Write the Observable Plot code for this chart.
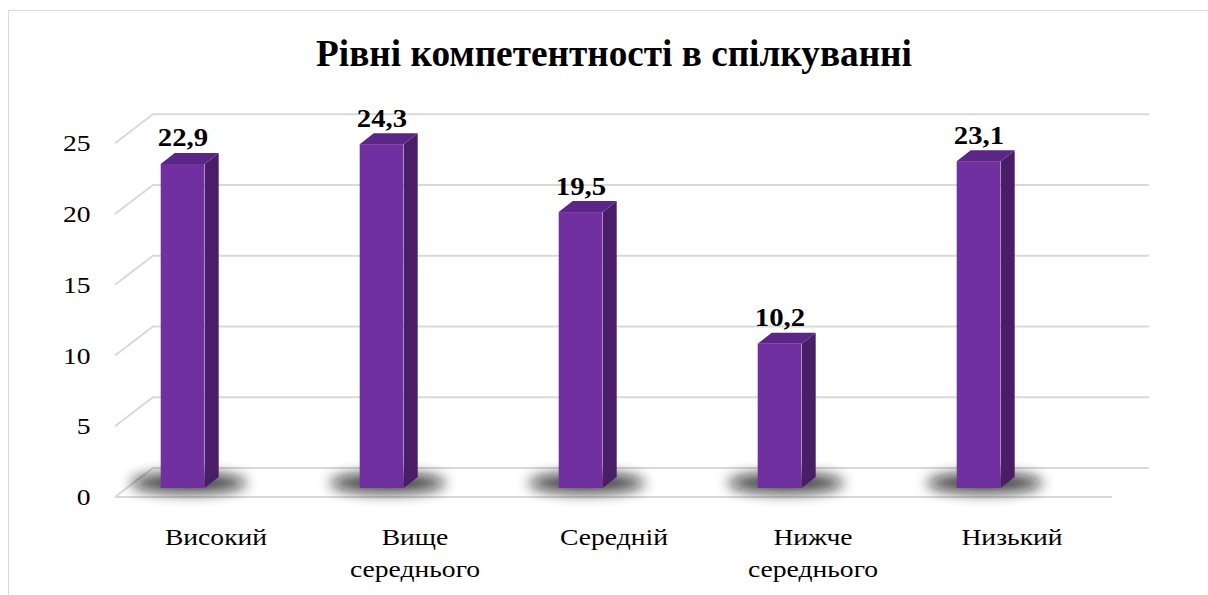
<!DOCTYPE html>
<html><head><meta charset="utf-8">
<script src="https://cdn.jsdelivr.net/npm/d3@7"></script>
<script src="https://cdn.jsdelivr.net/npm/@observablehq/plot@0.6"></script>
<style>
body{margin:0;background:#fff;}
#wrap{position:relative;width:1208px;height:595px;overflow:hidden;background:#fff;}
#frame{position:absolute;left:8px;top:10px;width:1400px;height:800px;border:1.5px solid #d9d9d9;}
#title{position:absolute;left:0;top:32px;width:1228px;text-align:center;font-family:"Liberation Serif","Times New Roman",serif;font-weight:bold;font-size:38px;line-height:1;color:#000;white-space:nowrap;}
#title span{display:inline-block;}
#chart{position:absolute;left:0;top:100px;}
</style></head>
<body>
<div id="wrap"><div id="frame"></div><div id="title"><span>Рівні компетентності в спілкуванні</span></div><div id="chart"></div></div>
<script>
const categories = ["Високий", "Вище\nсереднього", "Середній", "Нижче\nсереднього", "Низький"];
const values = [22.9, 24.3, 19.5, 10.2, 23.1];
const valueLabels = ["22,9", "24,3", "19,5", "10,2", "23,1"];
const yTicks = [0, 5, 10, 15, 20, 25];

const data = categories.map((c, i) => ({cat: c, value: values[i], label: valueLabels[i]}));

// geometry (pixels)
const xRange = [115, 1112];
const band = (xRange[1] - xRange[0]) / categories.length;
const barW = 44, barShift = -33, depthX = 14, depthY = -11;
const wallX = 38, wallBack = -20, wallFront = 9;
const k = 1.15; // horizontal text stretch

function barGeom(d, scales) {
  const xs = scales.x(d.cat);
  const xc = xs + band / 2 + barShift;
  return {xl: xc - barW / 2, xr: xc + barW / 2, yt: scales.y(d.value), yb: scales.y(0)};
}

function gridRender(index, scales) {
  const g = d3.create("svg:g").attr("fill", "none").attr("stroke", "#d9d9d9").attr("stroke-width", 2);
  for (const i of index) {
    const v = yTicks[i];
    const yb = scales.y(v) + wallBack, yf = scales.y(v) + wallFront;
    g.append("path").attr("d", `M${xRange[0]},${yf}L${xRange[0] + wallX},${yb}L${xRange[1] + wallX - 1},${yb}`);
  }
  const y0 = scales.y(0) + wallFront;
  g.append("path").attr("d", `M${xRange[0]},${y0}H${xRange[1]}`);
  return g.node();
}

function shadowRender(index, scales) {
  const g = d3.create("svg:g");
  for (const i of index) {
    const b = barGeom(data[i], scales);
    g.append("ellipse")
      .attr("cx", (b.xl + b.xr) / 2 + 6).attr("cy", b.yb - 5)
      .attr("rx", 58).attr("ry", 10)
      .attr("fill", "#111").attr("opacity", 0.8)
      .attr("filter", "url(#shblur)");
  }
  return g.node();
}

function sideTopRender(index, scales) {
  const g = d3.create("svg:g");
  for (const i of index) {
    const b = barGeom(data[i], scales);
    g.append("path").attr("fill", "#4a1e66")
      .attr("d", `M${b.xr},${b.yt}L${b.xr + depthX},${b.yt + depthY}L${b.xr + depthX},${b.yb + depthY}L${b.xr},${b.yb}Z`);
    g.append("path").attr("fill", "#5b2787")
      .attr("d", `M${b.xl},${b.yt}L${b.xl + depthX},${b.yt + depthY}L${b.xr + depthX},${b.yt + depthY}L${b.xr},${b.yt}Z`);
  }
  return g.node();
}

const inset = (band - barW) / 2;

const chart = Plot.plot({
  width: 1208, height: 495,
  marginLeft: 100, marginRight: 0, marginTop: 0, marginBottom: 0,
  x: {type: "band", domain: categories, range: xRange, padding: 0, axis: null},
  y: {domain: [0, 25], range: [388, 388 - 25 * 14.15], axis: null},
  style: {fontFamily: "'Liberation Serif','Times New Roman',serif", color: "#000", background: "transparent", overflow: "visible"},
  marks: [
    Plot.ruleY(yTicks, {y: d => d, render: gridRender}),
    Plot.axisY(yTicks, {tickSize: 0, tickPadding: 10, dy: 9, fontSize: 24, fill: "#000", label: null, tickFormat: d => String(d)}),
    Plot.barY(data, {x: "cat", y: "value", render: shadowRender}),
    Plot.barY(data, {x: "cat", y: "value", render: sideTopRender}),
    Plot.barY(data, {x: "cat", y: "value", fill: "#7030a0", dx: barShift, insetLeft: inset, insetRight: inset}),
    Plot.text(data, {x: "cat", y: "value", text: "label", dx: barShift, dy: -18, lineAnchor: "bottom", fontSize: 25, fontWeight: "bold", fill: "#000"}),
    Plot.text(data, {x: "cat", y: 0, text: "cat", dy: 34, lineAnchor: "top", lineHeight: 1.33, fontSize: 24, fill: "#000"})
  ]
});

// shadow blur filter
const svg = d3.select(chart);
svg.insert("defs", ":first-child").append("filter").attr("id", "shblur")
  .attr("x", "-50%").attr("y", "-200%").attr("width", "200%").attr("height", "500%")
  .append("feGaussianBlur").attr("stdDeviation", 7);

document.getElementById("chart").appendChild(chart);

// stretch texts horizontally around their anchor (leave em-based offsets untouched)
chart.querySelectorAll("text").forEach(t => {
  const xa = t.getAttribute("x");
  let pre = "";
  if (xa !== null && !/em/.test(xa) && parseFloat(xa) !== 0) {
    pre = ` translate(${parseFloat(xa)},0)`;
    t.setAttribute("x", 0);
  }
  const tr = t.getAttribute("transform") || "";
  t.setAttribute("transform", `${tr}${pre} scale(${k},1)`);
});

// fit title to reference width by font size, baseline at y=66
const title = document.getElementById("title");
const span = title.querySelector("span");
const w = span.getBoundingClientRect().width;
const fs = 38 * 596 / w;
title.style.fontSize = fs + "px";
title.style.top = (66 - 0.8375 * fs) + "px";
</script>
</body></html>
